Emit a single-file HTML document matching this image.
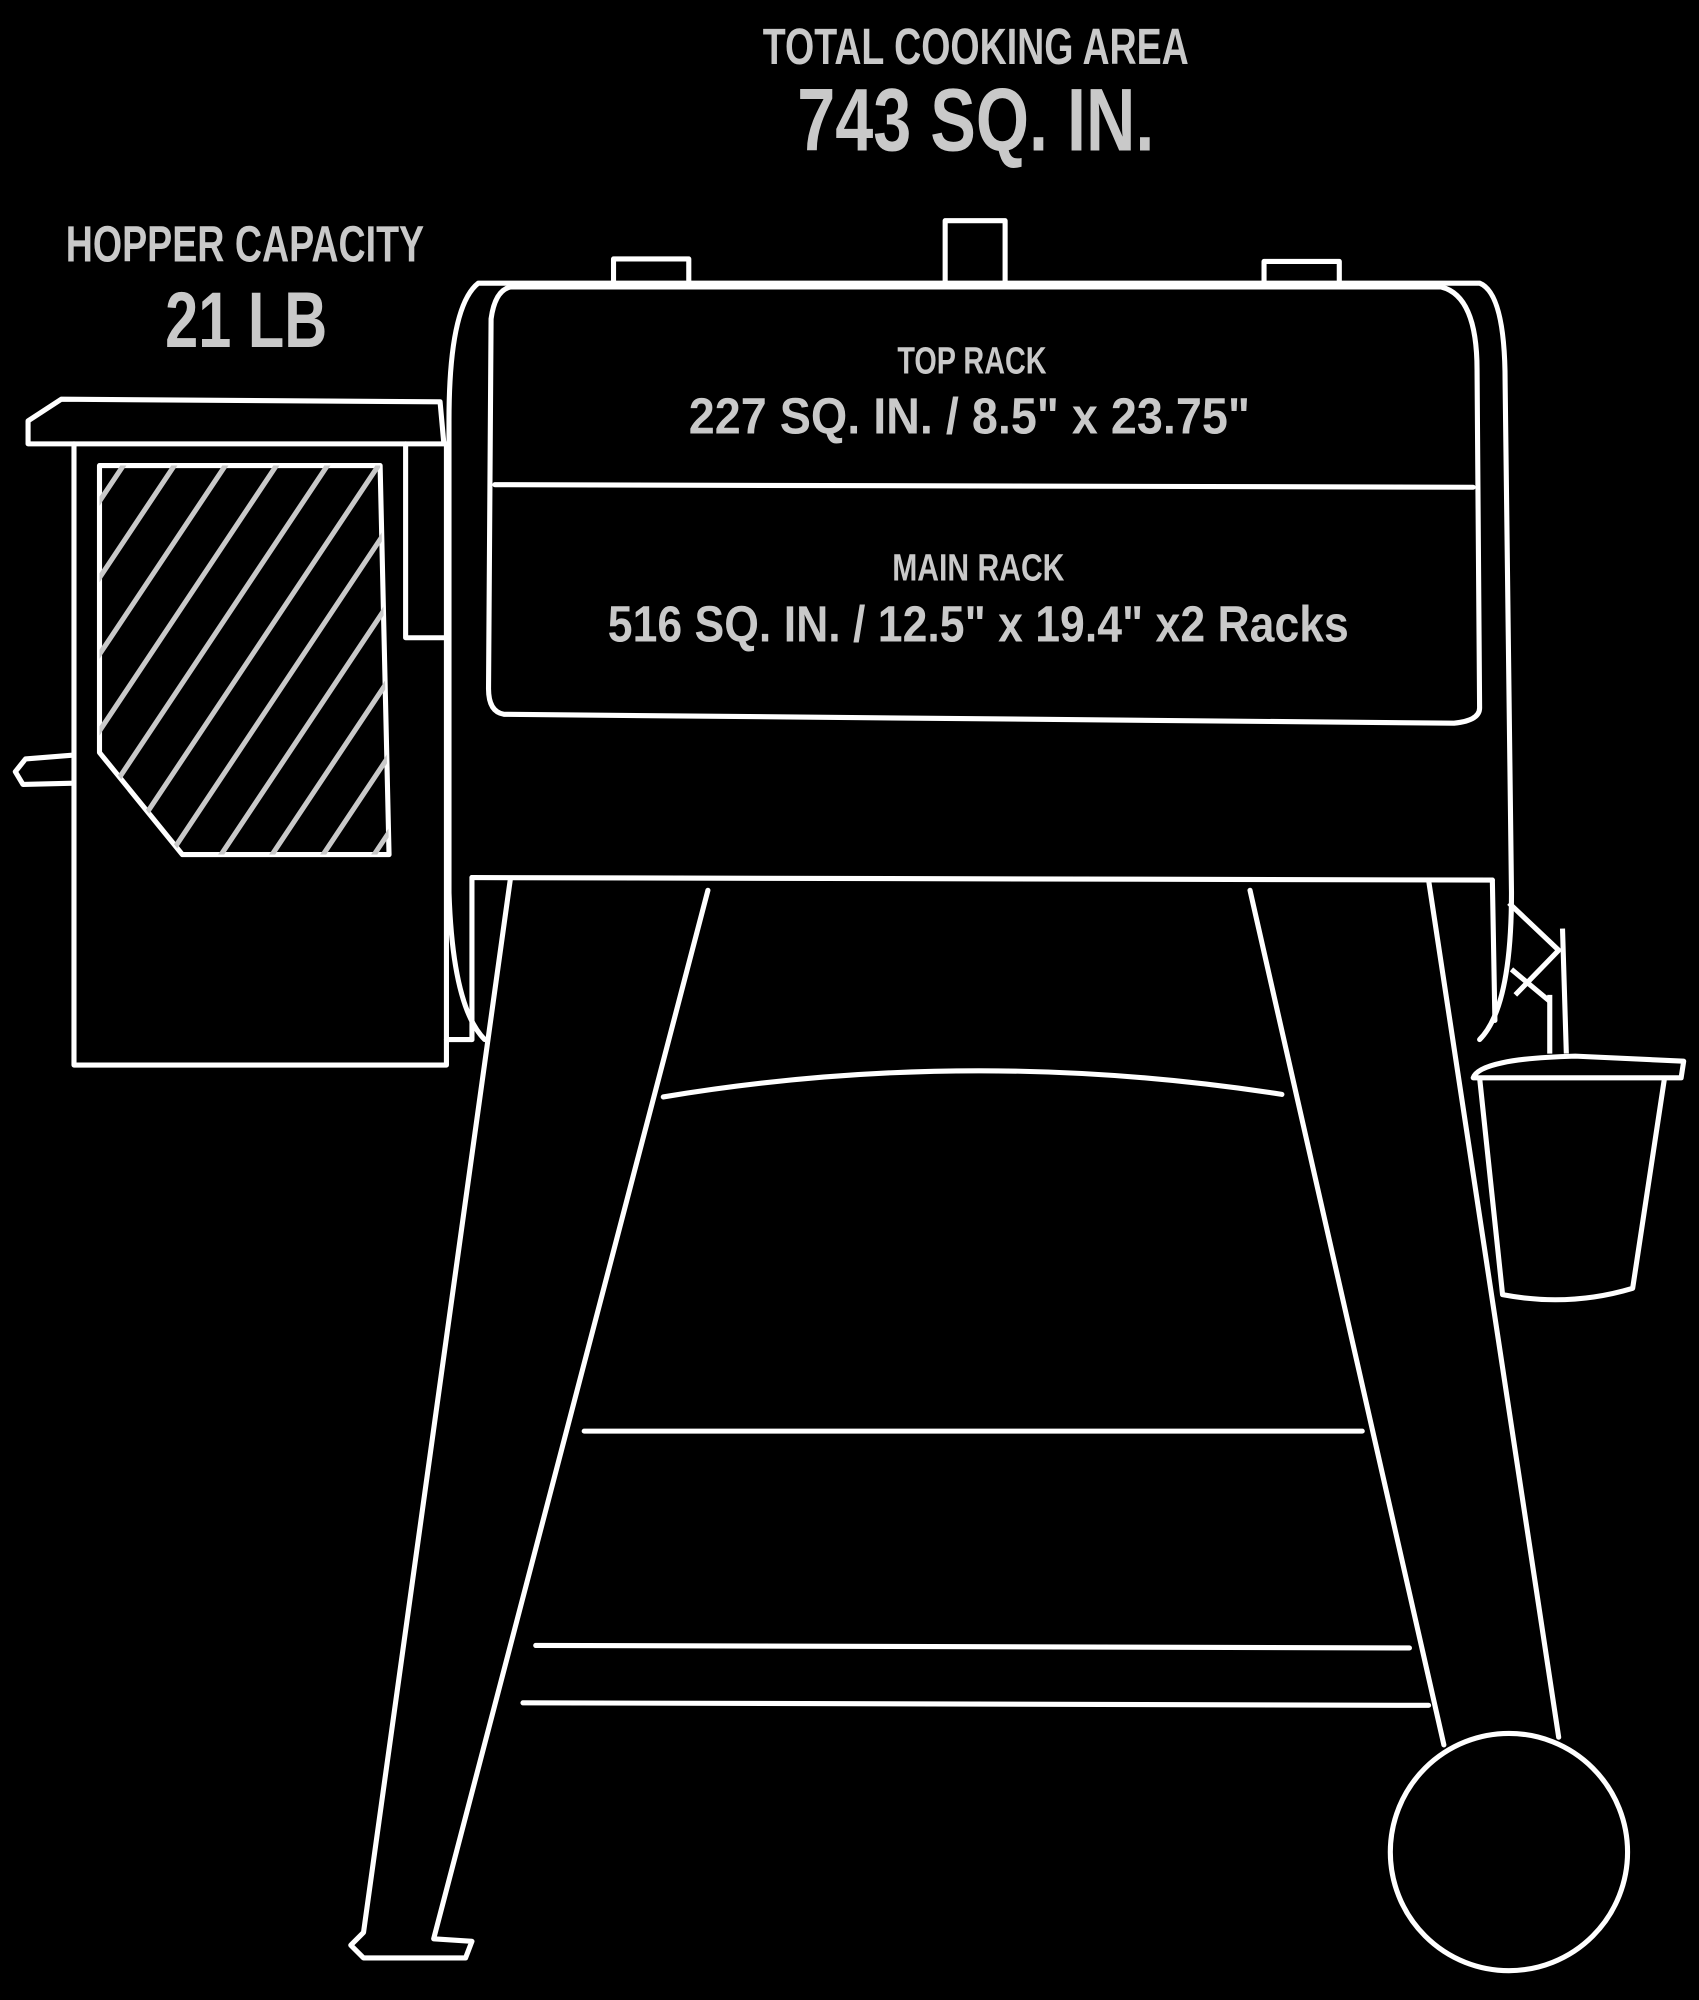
<!DOCTYPE html>
<html><head><meta charset="utf-8"><style>
html,body{margin:0;padding:0;background:#000;}
svg{display:block}
text{font-family:"Liberation Sans Narrow","Liberation Sans",sans-serif;fill:#c9c9c9;font-weight:bold;text-anchor:middle}
</style></head><body>
<svg width="1699" height="2000" viewBox="0 0 1332 1568" xmlns="http://www.w3.org/2000/svg">
<rect width="1332" height="1568" fill="#000"/>
<text x="765" y="50" font-size="40" textLength="334" lengthAdjust="spacingAndGlyphs">TOTAL COOKING AREA</text>
<text x="765" y="118" font-size="70" textLength="280" lengthAdjust="spacingAndGlyphs">743 SQ. IN.</text>
<text x="192" y="205" font-size="40" textLength="281" lengthAdjust="spacingAndGlyphs">HOPPER CAPACITY</text>
<text x="193" y="272" font-size="62" textLength="127" lengthAdjust="spacingAndGlyphs">21 LB</text>
<text x="762" y="293" font-size="30" textLength="117" lengthAdjust="spacingAndGlyphs" font-weight="normal">TOP RACK</text>
<text x="760" y="340" font-size="40" textLength="440" lengthAdjust="spacingAndGlyphs" font-weight="normal">227 SQ. IN. / 8.5" x 23.75"</text>
<text x="767" y="455" font-size="30" textLength="135" lengthAdjust="spacingAndGlyphs" font-weight="normal">MAIN RACK</text>
<text x="767" y="503" font-size="40" textLength="581" lengthAdjust="spacingAndGlyphs" font-weight="normal">516 SQ. IN. / 12.5" x 19.4" x2 Racks</text>
<defs>
<clipPath id="hc"><polygon points="78,365 298,365 305,670 143,670 78,590"/></clipPath>
</defs>
<g fill="none" stroke="#fff" stroke-width="4" stroke-linejoin="round" stroke-linecap="round">
<!-- handles -->
<path d="M481,222 V203 H540 V222 M741,222 V173 H788 V222 M991,222 V205 H1050 V222"/>
<!-- barrel -->
<path d="M375,222 H1160 Q1180,230 1180,300 L1185,700 Q1185,790 1160,815 M375,222 Q352,240 352,330 L352,700 Q355,790 380,815"/>
<path d="M400,225 H1130 Q1158,232 1158,290 L1160,555 Q1160,565 1140,567 L395,560 Q383,558 383,540 L385,250 Q388,228 400,225 Z"/>
<line x1="388" y1="380" x2="1155" y2="382"/>
<!-- legs frame -->
<path d="M370,688 L1170,690"/>
<path d="M370,688 L370,815 M1170,690 L1172,800"/>
<path d="M400,690 L285,1515 L275,1525 L285,1535 L365,1535 L370,1522 L340,1520 L555,698"/>
<path d="M980,698 L1132,1368 M1120,690 L1222,1362"/>
<path d="M520,860 Q760,820 1005,858"/>
<path d="M458,1122 L1068,1122 M420,1290 L1105,1292 M410,1335 L1120,1337"/>
<circle cx="1183" cy="1452" r="93"/>
<!-- hopper -->
<path d="M22,348 L22,330 L48,313 L345,315 L348,348 Z"/>
<path d="M58,348 V835 H350 V348"/>
<path d="M318,348 V500 H348"/>
<path d="M350,815 L370,815"/>
<path d="M58,592 L20,595 L12,605 L18,615 L58,614"/>
<polygon points="78,365 298,365 305,670 143,670 78,590"/>
</g>
<g clip-path="url(#hc)" stroke="#c9c9c9" stroke-width="4">
<path d="M60,420 L140,300 M60,480 L180,300 M60,540 L220,300 M60,600 L260,300 M60,660 L300,300 M80,690 L340,300 M120,690 L340,360 M160,690 L340,420 M200,690 L340,480 M240,690 L340,540 M280,690 L340,600"/>
</g>
<g fill="none" stroke="#fff" stroke-width="4" stroke-linejoin="round">
<!-- side shelf & bucket -->
<path d="M1183,708 L1222,745 L1188,780 M1185,760 L1215,785"/>
<path d="M1225,728 L1228,826 M1215,780 L1215,826"/>
<path d="M1155,845 Q1160,830 1235,828 L1320,832 L1318,845 Z"/>
<path d="M1160,845 L1178,1015 Q1230,1025 1280,1010 L1305,845"/>
</g>
</svg>
</body></html>
